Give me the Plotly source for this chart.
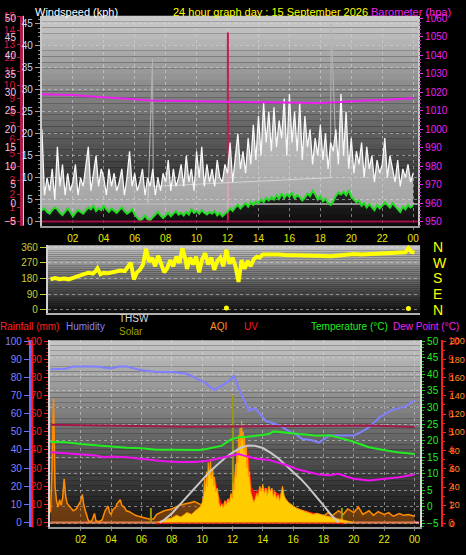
import plotly.graph_objects as go

W, H = 466, 555


def fx(p):
    return p / W


def fy(p):
    return 1 - p / H


# ---------------- data ----------------
hour_ticks = [2, 4, 6, 8, 10, 12, 14, 16, 18, 20, 22, 24]
hour_labels = ["02", "04", "06", "08", "10", "12", "14", "16", "18", "20", "22", "00"]

# 10-minute samples, hours 0..24
t10 = [i / 6 for i in range(145)]
wind_gust = [
    21, 6, 10, 7, 12, 5,
    17, 8, 13, 6, 11, 7,
    9, 13, 6, 10, 8, 12,
    17, 7, 11, 15, 8, 12,
    10, 6, 12, 8, 11, 7,
    9, 12, 6, 10, 16, 8,
    11, 7, 9, 12, 6, 10,
    8, 12, 6, 10, 7, 11,
    9, 14, 7, 12, 8, 10,
    13, 8, 15, 9, 12, 7,
    16, 10, 17, 8, 13, 9,
    12, 8, 14, 10, 9, 13,
    11, 18, 9, 15, 20, 12,
    16, 11, 19, 13, 22, 14,
    24, 15, 27, 18, 25, 16,
    26, 17, 23, 19, 28, 15,
    29, 18, 25, 16, 27, 14,
    24, 17, 21, 13, 19, 15,
    22, 14, 20, 12, 18, 16,
    21, 13, 29, 15, 25, 12,
    19, 11, 16, 13, 18, 10,
    17, 12, 15, 9, 14, 11,
    13, 19, 10, 15, 12, 9,
    14, 8, 12, 10, 13, 9,
    11,
]
wind_avg = [
    2.5, 3.0, 2.2, 1.8, 2.6, 3.2,
    2.8, 2.0, 1.5, 2.4, 3.0, 2.2,
    1.2, 2.0, 2.6, 2.2, 1.8, 2.5,
    3.2, 2.8, 3.6, 2.4, 3.0, 2.6,
    3.6, 2.8, 2.2, 3.0, 2.4, 2.0,
    2.6, 3.2, 2.4, 1.8, 2.2, 2.8,
    1.6, 0.8, 0.2, 0.6, 1.4, 0.5,
    0.3, 1.0, 1.6, 2.2, 1.4, 0.8,
    1.4, 2.0, 1.2, 1.8, 2.4, 1.6,
    2.0, 1.4, 2.2, 1.6, 2.8, 2.0,
    2.4, 1.8, 2.6, 2.0, 1.6, 2.2,
    1.8, 2.4, 1.4, 2.0, 1.2, 1.8,
    2.2, 3.0, 2.4, 3.2, 3.8, 3.0,
    3.6, 4.2, 3.4, 4.4, 3.8, 4.6,
    4.2, 5.0, 4.4, 5.4, 4.8, 5.6,
    5.0, 6.0, 5.2, 6.4, 5.4, 6.2,
    5.6, 6.6, 5.2, 6.0, 5.6, 4.8,
    5.4, 6.4, 5.8, 7.0, 6.2, 5.0,
    5.8, 4.6, 5.2, 4.2, 3.8, 4.6,
    5.8, 6.6, 6.2, 6.8, 6.0, 7.2,
    5.6, 5.0, 4.4, 4.8, 3.6, 4.2,
    3.2, 4.0, 3.4, 2.6, 3.8, 3.0,
    3.6, 4.4, 3.8, 3.2, 4.2, 3.6,
    3.0, 2.2, 3.4, 2.8, 3.8, 3.2,
    3.6,
]
gust_peak_time = [6.85, 7.15, 7.2, 18.65, 18.7, 19.0]
gust_peak_kph = [4, 37, 8, 10, 45, 17]
day_avg_time = [0, 24.3]
day_avg_kph = [4.0, 4.0]
event_time = [12.0]
event_kph = [43]
rain_rate_time = [0, 24.3]
rain_rate = [0, 0]

baro_time = list(range(25))
baro_hpa = [1019.0, 1018.8, 1018.5, 1017.9, 1017.5, 1017.0, 1016.3, 1015.6,
            1015.3, 1015.2, 1015.1, 1015.0, 1014.9, 1014.7, 1014.5, 1014.3,
            1014.2, 1014.1, 1014.2, 1014.6, 1015.3, 1015.6, 1015.9, 1016.5, 1016.8]

dir_time = [0.0, 0.3, 0.6, 0.9, 1.2, 1.5, 1.8, 2.0, 2.2, 2.5, 2.8, 3.0, 3.1, 3.3,
            3.5, 3.8, 4.0, 4.3, 4.6, 4.9, 5.1, 5.3, 5.5, 5.7, 5.9, 6.1, 6.3, 6.5,
            6.7, 6.9, 7.1, 7.3, 7.5, 7.7, 7.9, 8.1, 8.3, 8.5, 8.7, 8.9, 9.0, 9.2,
            9.4, 9.6, 9.8, 10.0, 10.2, 10.4, 10.6, 10.8, 11.0, 11.2, 11.4, 11.6,
            11.8, 12.0, 12.2, 12.4, 12.6, 12.8, 13.0, 13.2, 13.4, 13.6, 13.8,
            14.0, 14.5, 15.0, 15.5, 16.0, 16.5, 17.0, 17.5, 18.0, 18.5, 19.0,
            19.5, 20.0, 20.5, 21.0, 21.5, 22.0, 22.5, 23.0, 23.4, 23.6, 23.8, 24.0]
dir_deg = [175, 182, 176, 180, 175, 185, 195, 200, 205, 212, 208, 225, 238, 205,
           212, 210, 215, 220, 225, 222, 250, 270, 175, 215, 230, 260, 350, 275,
           300, 250, 310, 265, 215, 240, 285, 250, 305, 270, 352, 290, 235, 300,
           260, 305, 215, 290, 325, 260, 300, 230, 280, 300, 250, 345,
           265, 300, 250, 160, 285, 235, 280, 250, 290, 305, 300,
           318, 320, 318, 314, 312, 310, 312, 310, 309, 308, 312,
           315, 320, 318, 320, 322, 324, 325, 326, 330, 355, 332, 328]
calm_time = [11.6, 23.6]
calm_deg = [10, 8]

hum_time = [0, 1, 1.5, 2, 3, 3.5, 4, 4.5, 5, 5.5, 6, 6.5, 7, 8, 9, 9.6, 10.2, 10.8,
            11.2, 11.6, 11.9, 12.1, 12.4, 12.7, 13.1, 13.4, 13.6, 14.2, 15.1, 15.8,
            16.2, 16.6, 17.2, 17.7, 18.4, 19.0, 20.0, 20.5, 21.0, 21.7, 22.5, 23.4, 24.0]
hum_pct = [84.5, 84.8, 86, 86, 86, 85.5, 85, 86, 86, 85, 84, 83.5, 83, 83, 82, 79.5,
           77, 73, 75, 77, 79, 81, 74, 68.6, 61.6, 63, 62, 56, 53.5, 50,
           48.6, 46, 45.5, 44, 48, 48, 48, 50, 52.5, 58, 62, 64, 67.5]

temp_time = [0, 1, 2, 3, 4, 5, 6, 7, 8, 9, 9.8, 10.3, 10.8, 11.3, 11.9, 12.4, 13.0,
             13.5, 14.0, 14.4, 14.7, 15.2, 15.8, 16.4, 17.0, 17.5, 18.4, 19.0, 19.7,
             20.4, 21.0, 21.6, 22.3, 23.0, 24.0]
temp_c = [19.7, 19.5, 19.0, 18.6, 18.3, 17.9, 17.7, 17.3, 17.3, 17.2, 17.2, 17.5,
          18.0, 18.5, 20.4, 21.0, 21.2, 21.5, 21.8, 22.0, 22.8, 22.5, 22.2, 22.0,
          21.8, 21.5, 21.6, 21.0, 20.1, 19.0, 18.0, 17.5, 16.9, 16.4, 16.0]

dew_time = [0, 1, 2, 3, 3.5, 4, 5, 6, 6.8, 7.5, 8.5, 9.5, 10.5, 11.3, 11.8, 12.4,
            13.0, 13.5, 14.4, 15.0, 15.6, 16.4, 17.0, 17.7, 18.4, 19.0, 19.5, 20.0,
            21.0, 22.0, 23.0, 24.0]
dew_c = [16.5, 16.2, 15.9, 15.5, 15.0, 15.2, 15.0, 14.5, 14.0, 13.8, 13.6, 13.6,
         14.0, 14.8, 15.2, 16.0, 15.2, 14.6, 14.2, 13.5, 12.6, 11.2, 10.6, 9.8,
         9.6, 10.0, 9.2, 8.5, 8.0, 8.4, 9.0, 9.8]

indoor_time = [0, 3, 6, 9, 12, 15, 18, 21, 24]
indoor_c = [24.8, 24.6, 24.3, 24.2, 24.3, 24.4, 24.7, 24.6, 24.1]

solar_max_time = [7.2, 7.5, 8.0, 8.5, 9.0, 9.5, 10.0, 10.5, 11.0, 11.5, 12.0, 12.5,
                  13.0, 13.5, 14.0, 14.5, 15.0, 15.5, 16.0, 16.5, 17.0, 17.5, 18.0,
                  18.5, 19.0]
solar_max_wm2 = [0, 15, 50, 95, 140, 190, 235, 280, 318, 355, 385, 410, 424, 422,
                 410, 385, 355, 318, 278, 240, 195, 148, 95, 42, 0]

solar_time = [7.0, 7.5, 8.0, 8.3, 8.6, 9.0, 9.3, 9.6, 9.9, 10.0, 10.1, 10.15, 10.2,
              10.3, 10.35, 10.4, 10.5, 10.55, 10.6, 10.7, 10.75, 10.8, 10.9, 11.0,
              11.1, 11.2, 11.3, 11.4, 11.5, 11.6, 11.7, 11.8, 11.9, 12.0, 12.05,
              12.1, 12.2, 12.25, 12.3, 12.35, 12.4, 12.45, 12.5, 12.55, 12.6, 12.65,
              12.7, 12.75, 12.8, 12.85, 12.9, 12.95, 13.0, 13.05, 13.1, 13.2, 13.3,
              13.4, 13.5, 13.6, 13.7, 13.8, 13.9, 14.0, 14.1, 14.2, 14.3, 14.4,
              14.5, 14.6, 14.7, 14.8, 14.9, 15.0, 15.1, 15.2, 15.3, 15.4, 15.5,
              15.7, 16.0, 16.2, 16.5, 16.7, 17.0, 17.3, 17.6, 18.0, 18.3, 18.6,
              19.0, 19.5, 20.0]
solar_wm2 = [0, 15, 25, 40, 30, 55, 45, 70, 90, 110, 150, 240, 170, 280, 200, 330,
             260, 350, 240, 300, 200, 250, 170, 190, 110, 85, 100, 80, 120, 95,
             130, 110, 160, 130, 220, 180, 320, 250, 400, 330, 480, 380, 520, 420,
             560, 450, 500, 390, 470, 380, 420, 300, 360, 250, 280, 170, 140, 110,
             130, 160, 140, 200, 170, 210, 160, 190, 150, 200, 170, 190, 140, 170,
             130, 150, 120, 170, 200, 150, 130, 110, 90, 80, 70, 65, 55, 45, 50,
             40, 35, 30, 20, 10, 0]
solar_spike_time = [6.6, 12.0, 19.2]
solar_spike_wm2 = [80, 700, 80]

uv_time = [7.0, 8.0, 9.0, 10.0, 10.2, 10.4, 10.6, 10.8, 11.0, 11.3, 11.6, 12.0, 12.2,
           12.4, 12.6, 12.8, 13.0, 13.2, 13.5, 13.8, 14.2, 14.6, 15.0, 15.4, 15.8,
           16.2, 16.6, 17.0, 17.5, 18.0, 18.5, 19.0, 19.3]
uv_index = [0, 0.1, 0.3, 0.7, 1.8, 2.6, 2.4, 2.5, 1.6, 1.0, 1.2, 1.5, 2.5, 3.8,
            4.2, 4.5, 3.8, 2.0, 1.6, 1.9, 1.9, 1.8, 1.6, 1.4, 1.0, 0.8, 0.7, 0.6,
            0.5, 0.4, 0.2, 0.05, 0]

aqi_time = [0.0, 0.1, 0.2, 0.3, 0.4, 0.5, 0.6, 0.7, 0.8, 0.9, 1.0, 1.1, 1.3, 1.5,
            1.7, 1.9, 2.0, 2.1, 2.2, 2.3, 2.5, 2.7, 2.9, 3.0, 3.2, 3.4, 3.6, 3.8,
            3.9, 4.0, 4.1, 4.3, 4.4, 4.6, 4.7, 4.9, 5.0, 5.2, 5.4, 5.6, 5.8, 6.0,
            6.2, 6.5, 6.8, 7.0, 7.5, 8.0, 8.5, 9.0, 9.5, 10.0, 10.5, 11.0, 11.5,
            12.0, 12.5, 13.0, 13.5, 14.0, 14.5, 15.0, 15.5, 16.0, 16.5, 17.0,
            17.5, 18.0, 18.3, 18.6, 19.0, 19.3, 19.6, 20.0, 20.3, 20.6, 21.0,
            21.3, 21.6, 22.0, 22.3, 22.6, 23.0, 23.3, 23.6, 24.0]
aqi_val = [12, 60, 137, 40, 25, 18, 26, 20, 28, 49, 30, 22, 18, 14,
           16, 22, 25, 32, 20, 14, 3, 2, 11, 3, 2, 4, 14, 19,
           12, 10, 15, 18, 22, 26, 20, 17, 14, 13, 11, 9, 8, 7,
           6, 5, 5, 10, 14, 16, 20, 22, 24, 20, 16, 14, 12,
           15, 12, 14, 11, 10, 12, 9, 11, 10, 12, 9,
           11, 8, 12, 9, 14, 10, 16, 12, 18, 10, 14,
           9, 13, 10, 12, 8, 11, 9, 10, 8]

rain_time = [0, 24.3]
rain_mm = [0, 0]

# ---------------- figure ----------------
fig = go.Figure()

GRID = "rgba(215,215,215,0.55)"
FONT = "Liberation Sans"

# top panel (wind)
fig.add_trace(go.Scatter(x=gust_peak_time, y=gust_peak_kph, mode="lines",
                         line=dict(color="#b4b4b4", width=1), xaxis="x", yaxis="y"))
fig.add_trace(go.Scatter(x=t10, y=wind_avg, mode="lines", line=dict(width=0),
                         xaxis="x", yaxis="y", showlegend=False))
fig.add_trace(go.Scatter(x=t10, y=wind_gust, mode="lines", fill="tonexty",
                         fillcolor="rgba(225,225,225,0.7)",
                         line=dict(color="#f8f8f8", width=1.3), xaxis="x", yaxis="y"))
fig.add_trace(go.Scatter(x=day_avg_time, y=day_avg_kph, mode="lines",
                         line=dict(color="#b8b8b8", width=1.5), xaxis="x", yaxis="y"))
fig.add_trace(go.Scatter(x=t10, y=wind_avg, mode="lines", line=dict(color="#22dd22", width=2),
                         xaxis="x", yaxis="y"))
fig.add_trace(go.Bar(x=event_time, y=event_kph, width=0.08, marker=dict(color="#c8185a", line=dict(width=0)),
                     xaxis="x", yaxis="y"))
fig.add_trace(go.Scatter(x=baro_time, y=baro_hpa, mode="lines", line=dict(color="#ee22ee", width=2),
                         xaxis="x", yaxis="y2"))
fig.add_trace(go.Scatter(x=rain_rate_time, y=rain_rate, mode="lines", line=dict(color="#a01048", width=2),
                         xaxis="x", yaxis="y3"))
fig.add_trace(go.Scatter(x=[], y=[], mode="lines", xaxis="x", yaxis="y4"))

# middle panel (direction)
fig.add_trace(go.Scatter(x=dir_time, y=dir_deg, mode="lines", line=dict(color="#ffff00", width=4),
                         xaxis="x2", yaxis="y5"))
fig.add_trace(go.Scatter(x=calm_time, y=calm_deg, mode="markers",
                         marker=dict(color="#ffff00", size=5), xaxis="x2", yaxis="y5"))
fig.add_trace(go.Scatter(x=[], y=[], mode="lines", xaxis="x2", yaxis="y6"))

# bottom panel (drawing order follows axis numbers)
fig.add_trace(go.Scatter(x=rain_time, y=rain_mm, mode="lines", line=dict(color="#ff9a9a", width=2),
                         xaxis="x3", yaxis="y7"))
fig.add_trace(go.Scatter(x=aqi_time, y=aqi_val, mode="lines", fill="tozeroy",
                         fillcolor="rgba(190,95,10,0.5)", line=dict(color="#ff8c00", width=1.5),
                         xaxis="x3", yaxis="y8"))
fig.add_trace(go.Scatter(x=uv_time, y=uv_index, mode="lines", fill="tozeroy",
                         fillcolor="#e01010", line=dict(color="#ff1010", width=2),
                         xaxis="x3", yaxis="y9"))
fig.add_trace(go.Scatter(x=solar_time, y=solar_wm2, mode="lines", fill="tozeroy",
                         fillcolor="#ffcc00", line=dict(color="#ff9900", width=1),
                         xaxis="x3", yaxis="y10"))
fig.add_trace(go.Bar(x=solar_spike_time, y=solar_spike_wm2, width=0.06,
                     marker=dict(color="#9a9a10", line=dict(width=0)), xaxis="x3", yaxis="y10"))
fig.add_trace(go.Scatter(x=solar_max_time, y=solar_max_wm2, mode="lines",
                         line=dict(color="#c8c8c8", width=2), xaxis="x3", yaxis="y10"))
fig.add_trace(go.Scatter(x=hum_time, y=hum_pct, mode="lines",
                         line=dict(color="#7f7fff", width=2), xaxis="x3", yaxis="y11"))
fig.add_trace(go.Scatter(x=indoor_time, y=indoor_c, mode="lines",
                         line=dict(color="#a01848", width=2), xaxis="x3", yaxis="y12"))
fig.add_trace(go.Scatter(x=temp_time, y=temp_c, mode="lines",
                         line=dict(color="#22ee22", width=2), xaxis="x3", yaxis="y12"))
fig.add_trace(go.Scatter(x=dew_time, y=dew_c, mode="lines",
                         line=dict(color="#ee10ee", width=2), xaxis="x3", yaxis="y12"))
fig.add_trace(go.Scatter(x=[], y=[], mode="lines", xaxis="x3", yaxis="y13"))
fig.add_trace(go.Scatter(x=[], y=[], mode="lines", xaxis="x3", yaxis="y14"))

# panel geometry (pixels)
TOP = dict(l=42, r=419, t=10, b=224)
MID = dict(l=48, r=421, t=244, b=313)
BOT = dict(l=50, r=421, t=341, b=532)


def xdom(p):
    return [fx(p["l"]), fx(p["r"])]


def ydom(p):
    return [fy(p["b"]), fy(p["t"])]


tick_font = dict(family=FONT, size=10)

layout = dict(
    width=W, height=H, margin=dict(l=0, r=0, t=0, b=0),
    paper_bgcolor="black", plot_bgcolor="black", showlegend=False,
    hovermode=False, barmode="overlay",
    xaxis=dict(domain=xdom(TOP), range=[0, 24.32], anchor="y",
               tickvals=hour_ticks, ticktext=hour_labels,
               tickfont=dict(tick_font, color="#e8e800"),
               ticks="outside", ticklen=2, tickcolor="#808080",
               showgrid=True, gridcolor=GRID, griddash="dot", zeroline=False,
               showline=True, linecolor="#9a9a9a", linewidth=2),
    yaxis=dict(domain=ydom(TOP), range=[-0.9, 46.8], anchor="x",
               tickvals=list(range(0, 50, 5)), tickfont=dict(tick_font, color="#c4d8ff"),
               ticks="outside", ticklen=5, tickcolor="#a0a0a0",
               minor=dict(dtick=1, ticklen=2, tickcolor="#909090", ticks="outside"),
               showgrid=True, gridcolor=GRID, griddash="dot", zeroline=False,
               showline=True, linecolor="#c8c8c8", linewidth=2, mirror=True),
    yaxis2=dict(overlaying="y", side="right", anchor="x", range=[947.9, 1061.4],
                tickvals=list(range(950, 1070, 10)), tickfont=dict(tick_font, color="#ee22ee"),
                ticks="outside", ticklen=4, tickcolor="#ee22ee",
                minor=dict(dtick=2, ticklen=2, tickcolor="#cc22cc", ticks="outside"),
                showgrid=False, zeroline=False),
    yaxis3=dict(overlaying="y", side="left", anchor="free", position=fx(21),
                range=[-0.29, 15.07], tickvals=list(range(0, 16)),
                tickfont=dict(tick_font, color="#d81848"),
                ticks="outside", ticklen=3, tickcolor="#c01848",
                showgrid=False, zeroline=False,
                showline=True, linecolor="#b01848", linewidth=3),
    yaxis4=dict(overlaying="y", side="left", anchor="free", position=fx(21),
                range=[-6.06, 50.8], tickvals=list(range(-5, 55, 5)),
                tickfont=dict(tick_font, color="#f0c4dc"), ticks="outside", ticklen=3,
                tickcolor="rgba(0,0,0,0)", showgrid=False, zeroline=False),
    xaxis2=dict(domain=xdom(MID), range=[-0.17, 24.37], anchor="y5",
                showticklabels=False, ticks="", showgrid=False, zeroline=False,
                showline=True, linecolor="#b0b0b0", linewidth=2),
    yaxis5=dict(domain=ydom(MID), range=[-16.9, 371], anchor="x2",
                tickvals=[0, 90, 180, 270, 360], tickfont=dict(tick_font, color="#cccc30"),
                ticks="outside", ticklen=6, tickcolor="#cccc30",
                showgrid=True, gridcolor=GRID, griddash="dot", zeroline=False,
                showline=True, linecolor="#d0d0d0", linewidth=2),
    yaxis6=dict(overlaying="y5", side="right", anchor="x2", range=[-16.9, 371],
                tickvals=[0, 90, 180, 270, 360], ticktext=["N", "E", "S", "W", "N"],
                tickfont=dict(family=FONT, size=14, color="#ffff00"),
                ticks="", ticklabelstandoff=12, showgrid=False, zeroline=False),
    xaxis3=dict(domain=xdom(BOT), range=[-0.04, 24.37], anchor="y7",
                tickvals=hour_ticks, ticktext=hour_labels,
                tickfont=dict(tick_font, color="#e8e800"),
                ticks="outside", ticklen=2, tickcolor="#808080",
                showgrid=True, gridcolor=GRID, griddash="dot", zeroline=False,
                showline=True, linecolor="#9a9a9a", linewidth=2),
    yaxis7=dict(domain=ydom(BOT), range=[-2.7, 100.5], anchor="x3",
                tickvals=list(range(0, 110, 10)), tickfont=dict(tick_font, color="#ff2020"),
                ticks="outside", ticklen=4, tickcolor="#ff2020",
                minor=dict(dtick=2, ticklen=2, tickcolor="#c01818", ticks="outside"),
                showgrid=False, zeroline=False,
                showline=True, linecolor="#d8d8d8", linewidth=2),
    yaxis8=dict(overlaying="y7", visible=False, range=[-4.3, 201]),
    yaxis9=dict(overlaying="y7", visible=False, range=[-0.215, 10.05]),
    yaxis10=dict(overlaying="y7", visible=False, range=[-27, 1003]),
    yaxis11=dict(overlaying="y7", side="left", anchor="free", position=fx(30),
                 range=[-2.7, 100.5], tickvals=list(range(0, 110, 10)),
                 tickfont=dict(tick_font, color="#8080ff"),
                 ticks="outside", ticklen=5, tickcolor="#7070ff",
                 showgrid=False, zeroline=False,
                 showline=True, linecolor="#6a6aff", linewidth=3),
    yaxis12=dict(overlaying="y7", side="right", anchor="x3", range=[-6.18, 50.3],
                 tickvals=list(range(-5, 55, 5)), tickfont=dict(tick_font, color="#22ee22"),
                 ticks="outside", ticklen=3, tickcolor="#22cc22",
                 minor=dict(dtick=1, ticklen=2, tickcolor="#22aa22", ticks="outside"),
                 showgrid=True, gridcolor=GRID, griddash="dot", zeroline=False,
                 showline=True, linecolor="#d8d8d8", linewidth=2),
    yaxis13=dict(overlaying="y7", side="right", anchor="free", position=fx(443),
                 range=[-0.215, 10.05], tickvals=list(range(0, 11)),
                 tickfont=dict(tick_font, color="#ff1a1a"),
                 ticks="outside", ticklen=3, tickcolor="#ff2020",
                 minor=dict(dtick=0.5, ticklen=2, tickcolor="#ff2020", ticks="outside"),
                 showgrid=False, zeroline=False,
                 showline=True, linecolor="#ff1a1a", linewidth=2),
    yaxis14=dict(overlaying="y7", side="right", anchor="free", position=fx(443),
                 range=[-4.3, 201], tickvals=list(range(0, 220, 20)),
                 tickfont=dict(family=FONT, size=9, color="#ff9020"),
                 ticks="outside", ticklen=5, tickcolor="rgba(0,0,0,0)",
                 showgrid=False, zeroline=False),
)
fig.update_layout(**layout)

# gradient plot backgrounds (style only)
shapes = []
for xr, yr, top_g, bot_g in [("x domain", "y domain", 205, 10),
                             ("x2 domain", "y5 domain", 200, 14),
                             ("x3 domain", "y7 domain", 200, 12)]:
    n = 36
    for i in range(n):
        g = int(bot_g + (top_g - bot_g) * (i + 0.5) / n)
        shapes.append(dict(type="rect", xref=xr, yref=yr, x0=0, x1=1,
                           y0=i / n, y1=(i + 1) / n, layer="below",
                           fillcolor=f"rgb({g},{g},{g})", line=dict(width=0)))
# decorative axis rails
shapes.append(dict(type="line", xref="paper", yref="paper", x0=fx(23.5), x1=fx(23.5),
                   y0=fy(TOP["b"]), y1=fy(TOP["t"]), line=dict(color="#e0e0e0", width=1)))
shapes.append(dict(type="line", xref="paper", yref="paper", x0=fx(32.5), x1=fx(32.5),
                   y0=fy(BOT["b"]), y1=fy(BOT["t"]), line=dict(color="#ff1a1a", width=2)))
fig.update_layout(shapes=shapes)


def label(x, y, text, color, size=11):
    return dict(xref="paper", yref="paper", x=fx(x), y=fy(y), text=text, showarrow=False,
                xanchor="left", yanchor="middle", xshift=0,
                font=dict(family=FONT, size=size, color=color))


fig.update_layout(annotations=[
    label(33, 6, "Windspeed (kph)", "#ffffff", 11),
    label(171, 6, "24 hour graph day : 15 September 2026", "#ffff00", 11),
    label(370, 6, "Barometer (hpa)", "#ee22ee", 11),
    label(-2, 327, "Rainfall (mm)", "#ff2020", 10),
    label(64, 327, "Humidity", "#8080ff", 10),
    label(117, 319, "THSW", "#d8d8d8", 10),
    label(117, 332, "Solar", "#a0a000", 10),
    label(208, 327, "AQI", "#ff9020", 10),
    label(243, 327, "UV", "#ff1a1a", 10),
    label(310, 327, "Temperature (°C)", "#22ee22", 10),
    label(392, 327, "Dew Point (°C)", "#ee22ee", 10),
])

fig.write_html("out.html", config={"displayModeBar": False},
               post_script="document.body.style.margin='0';document.body.style.overflow='hidden';")
